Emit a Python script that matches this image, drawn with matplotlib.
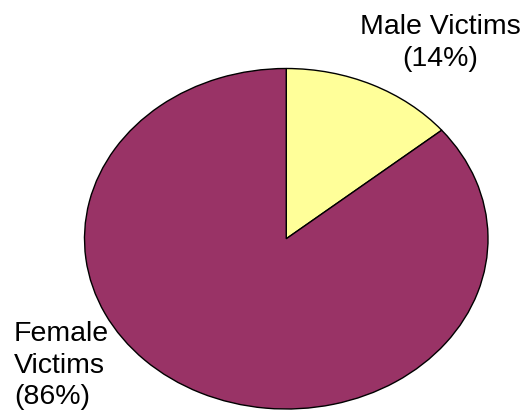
import matplotlib
matplotlib.use("Agg")
import matplotlib.pyplot as plt

categories = ["Male Victims", "Female Victims"]
values = [14, 86]
labels = ["Male Victims\n(14%)", "Female\nVictims\n(86%)"]
colors = ["#FFFF99", "#993366"]

W, H = 529, 411
fig = plt.figure(figsize=(W / 100, H / 100), dpi=100)
fig.patch.set_facecolor("white")

# pie ellipse: x 84..488, y 69..409 (pixels from top)
left, right, top, bottom = 84.5, 488.0, 68.5, 409.0
ax = fig.add_axes([left / W, (H - bottom) / H, (right - left) / W, (bottom - top) / H])
ax.pie(values, colors=colors, startangle=90, counterclock=False,
       wedgeprops=dict(edgecolor="black", linewidth=1.0))
ax.set_aspect("auto")
ax.set_xlim(-1, 1)
ax.set_ylim(-1, 1)
ax.axis("off")

font = dict(family=["Liberation Sans", "DejaVu Sans"], fontsize=20.5, color="black")
fig.text(440 / W, 1 - 14 / H, labels[0], ha="center", va="top",
         linespacing=1.28, multialignment="center", **font)
fig.text(14 / W, 1 - 321 / H, labels[1], ha="left", va="top",
         linespacing=1.28, multialignment="left", **font)

fig.savefig("out.png", dpi=100, facecolor="white")
